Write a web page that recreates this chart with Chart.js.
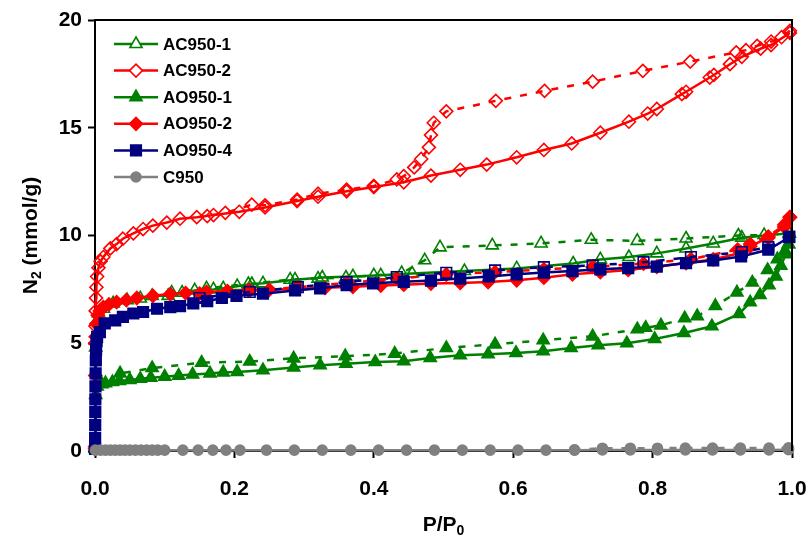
<!DOCTYPE html>
<html>
<head>
<meta charset="utf-8">
<script src="https://cdn.jsdelivr.net/npm/chart.js@4.4.1/dist/chart.umd.min.js"></script>
<style>
  html, body { margin: 0; padding: 0; background: #fff; }
  #wrap { width: 811px; height: 540px; position: relative; }
</style>
</head>
<body>
<div id="wrap"><canvas id="chart"></canvas></div>
<script>
// N2 isotherms, [P/P0, mmol/g]; "Ads" = adsorption branch, "Des" = desorption branch
const ac9501Ads = [[0.0002,0.2],[0.001,4.8],[0.002,6.0],[0.005,6.4],[0.012,6.6],[0.026,6.85],[0.046,7.0],[0.065,7.08],[0.082,7.2],[0.105,7.2],[0.125,7.35],[0.143,7.45],[0.17,7.5],[0.184,7.55],[0.204,7.65],[0.225,7.75],[0.241,7.78],[0.287,7.95],[0.326,8.05],[0.37,8.1],[0.41,8.15],[0.455,8.24],[0.53,8.35],[0.605,8.47],[0.686,8.7],[0.725,8.89],[0.766,9.0],[0.806,9.17],[0.848,9.4],[0.887,9.63],[0.928,9.9],[0.996,10.1]];
const ac9501Des = [[0.996,10.1],[0.96,10.02],[0.923,10.0],[0.848,9.86],[0.778,9.75],[0.712,9.8],[0.64,9.63],[0.57,9.54],[0.495,9.45],[0.473,8.85],[0.44,8.25],[0.4,8.15],[0.36,8.05],[0.32,8.0],[0.28,7.95],[0.22,7.75],[0.16,7.55],[0.11,7.35]];

const ac9502Ads = [[0.0001,0.2],[0.0003,5.0],[0.0006,5.8],[0.001,6.5],[0.0015,7.1],[0.002,7.6],[0.003,8.1],[0.005,8.5],[0.008,8.8],[0.012,9.0],[0.022,9.4],[0.031,9.6],[0.04,9.85],[0.055,10.1],[0.069,10.3],[0.083,10.46],[0.103,10.6],[0.122,10.78],[0.146,10.85],[0.17,10.95],[0.207,11.1],[0.244,11.3],[0.29,11.6],[0.32,11.8],[0.361,12.05],[0.4,12.25],[0.443,12.47],[0.482,12.78],[0.524,13.05],[0.562,13.29],[0.605,13.63],[0.644,13.97],[0.684,14.27],[0.725,14.77],[0.766,15.28],[0.793,15.66],[0.806,15.87],[0.842,16.56],[0.848,16.67],[0.882,17.33],[0.888,17.45],[0.911,17.95],[0.928,18.29],[0.955,18.67],[0.97,18.84],[0.997,19.4]];
const ac9502Des = [[0.997,19.5],[0.985,19.2],[0.97,19.0],[0.95,18.8],[0.934,18.6],[0.92,18.5],[0.854,18.07],[0.786,17.64],[0.714,17.14],[0.645,16.71],[0.575,16.25],[0.504,15.76],[0.486,15.23],[0.482,14.66],[0.479,14.09],[0.468,13.55],[0.458,13.16],[0.443,12.75],[0.433,12.6],[0.4,12.3],[0.361,12.13],[0.32,11.94],[0.29,11.67],[0.244,11.4],[0.225,11.43],[0.187,11.05],[0.161,10.9]];

const ao9501Ads = [[0.0002,0.1],[0.001,2.6],[0.003,3.0],[0.006,3.2],[0.01,3.1],[0.015,3.15],[0.025,3.2],[0.035,3.25],[0.05,3.3],[0.065,3.35],[0.08,3.4],[0.1,3.45],[0.12,3.5],[0.14,3.55],[0.165,3.6],[0.184,3.65],[0.204,3.67],[0.241,3.75],[0.285,3.88],[0.323,3.98],[0.36,4.05],[0.402,4.13],[0.443,4.17],[0.481,4.32],[0.524,4.44],[0.564,4.49],[0.604,4.55],[0.643,4.63],[0.683,4.78],[0.722,4.91],[0.763,5.0],[0.803,5.2],[0.845,5.48],[0.885,5.79],[0.924,6.36],[0.94,6.9],[0.954,7.24],[0.967,7.69],[0.977,8.1],[0.984,8.6],[0.991,9.13],[0.995,9.6]];
const ao9501Des = [[0.995,9.6],[0.99,9.3],[0.979,8.9],[0.965,8.4],[0.943,7.82],[0.921,7.36],[0.89,6.73],[0.864,6.26],[0.846,6.16],[0.812,5.83],[0.79,5.72],[0.778,5.65],[0.714,5.32],[0.643,5.14],[0.574,4.95],[0.504,4.78],[0.43,4.52],[0.359,4.4],[0.285,4.3],[0.222,4.15],[0.153,4.1],[0.082,3.85],[0.036,3.6]];

const ao9502Ads = [[0.0001,0.1],[0.0004,3.5],[0.001,5.3],[0.002,5.9],[0.004,6.3],[0.007,6.5],[0.012,6.68],[0.02,6.8],[0.031,6.91],[0.045,7.0],[0.06,7.1],[0.083,7.2],[0.108,7.28],[0.13,7.33],[0.16,7.38],[0.19,7.42],[0.22,7.45],[0.25,7.48],[0.29,7.52],[0.33,7.57],[0.37,7.62],[0.41,7.68],[0.443,7.72],[0.482,7.77],[0.524,7.8],[0.564,7.84],[0.605,7.92],[0.644,8.04],[0.685,8.2],[0.725,8.3],[0.765,8.4],[0.806,8.55],[0.848,8.72],[0.887,8.89],[0.927,9.2],[0.94,9.5],[0.966,9.9],[0.989,10.4],[0.997,10.85]];
const ao9502Des = [[0.997,10.85],[0.989,10.5],[0.966,9.95],[0.94,9.6],[0.922,9.35],[0.855,8.9],[0.787,8.7],[0.714,8.54],[0.644,8.43],[0.574,8.3],[0.504,8.19],[0.433,8.0],[0.361,7.8],[0.291,7.6],[0.222,7.45],[0.15,7.3]];

const ao9504Ads = [[0.0001,0.1],[0.0002,0.6],[0.0003,1.2],[0.0004,1.8],[0.0005,2.4],[0.0007,3.0],[0.0009,3.6],[0.0012,4.2],[0.0016,4.7],[0.0022,5.1],[0.003,5.3],[0.007,5.52],[0.014,5.92],[0.029,6.06],[0.04,6.22],[0.055,6.38],[0.069,6.45],[0.089,6.6],[0.108,6.68],[0.122,6.72],[0.141,6.85],[0.161,6.95],[0.182,7.1],[0.203,7.2],[0.241,7.3],[0.287,7.45],[0.323,7.55],[0.361,7.7],[0.399,7.78],[0.443,7.85],[0.482,7.91],[0.524,8.0],[0.565,8.1],[0.605,8.2],[0.644,8.28],[0.685,8.35],[0.725,8.43],[0.765,8.49],[0.806,8.56],[0.848,8.72],[0.887,8.84],[0.927,9.03],[0.966,9.34],[0.996,9.92]];
const ao9504Des = [[0.996,9.95],[0.966,9.46],[0.928,9.23],[0.855,9.0],[0.787,8.76],[0.714,8.61],[0.644,8.53],[0.574,8.38],[0.504,8.27],[0.433,8.07],[0.361,7.84],[0.291,7.6],[0.222,7.38],[0.15,7.1]];

const c950Ads = [[0.0005,0.04],[0.008,0.04],[0.015,0.04],[0.022,0.04],[0.029,0.04],[0.036,0.04],[0.043,0.04],[0.05,0.04],[0.058,0.04],[0.066,0.04],[0.074,0.04],[0.082,0.04],[0.09,0.04],[0.1,0.04],[0.126,0.04],[0.148,0.04],[0.169,0.04],[0.188,0.04],[0.208,0.04],[0.246,0.04],[0.286,0.04],[0.326,0.04],[0.367,0.04],[0.407,0.04],[0.447,0.04],[0.487,0.04],[0.527,0.04],[0.567,0.04],[0.607,0.04],[0.647,0.04],[0.688,0.04],[0.728,0.05],[0.768,0.05],[0.807,0.05],[0.847,0.05],[0.886,0.05],[0.926,0.05],[0.967,0.05],[0.995,0.06]];
const c950Des = [[0.995,0.15],[0.967,0.14],[0.926,0.14],[0.886,0.14],[0.847,0.14],[0.807,0.13],[0.768,0.13],[0.728,0.13],[0.688,0.05]];

const sampleNames = ['AC950-1', 'AC950-2', 'AO950-1', 'AO950-2', 'AO950-4', 'C950'];
const xTicks = [0, 0.2, 0.4, 0.6, 0.8, 1.0];
const yTicks = [0, 5, 10, 15, 20];

const FONT = "'Liberation Sans', Arial, sans-serif";
const GREEN = '#008000', RED = '#ff0000', NAVY = '#000080', GREY = '#808080';

// marker look per sample, same order as sampleNames
const looks = [
  { color: GREEN, style: 'triangle', r: 7, fill: 'rgba(0,0,0,0)' },
  { color: RED, style: 'rectRot', r: 6.5, fill: 'rgba(0,0,0,0)' },
  { color: GREEN, style: 'triangle', r: 7, fill: GREEN },
  { color: RED, style: 'rectRot', r: 6.5, fill: RED },
  { color: NAVY, style: 'rect', r: 7.5, fill: NAVY },
  { color: GREY, style: 'circle', r: 5, fill: GREY }
];
const branches = [
  [ac9501Ads, ac9501Des], [ac9502Ads, ac9502Des], [ao9501Ads, ao9501Des],
  [ao9502Ads, ao9502Des], [ao9504Ads, ao9504Des], [c950Ads, c950Des]
];

const datasets = [];
let order = 100;
branches.forEach((pair, i) => {
  const lk = looks[i];
  pair.forEach((pts, j) => {
    const desorb = j === 1;
    let fill = lk.fill;
    if (desorb && sampleNames[i] === 'AO950-4') fill = 'rgba(0,0,0,0)';
    datasets.push({
      label: sampleNames[i] + (desorb ? ' des' : ''),
      data: pts.map(p => ({ x: p[0], y: p[1] })),
      showLine: true,
      borderColor: lk.color,
      borderWidth: 2.5,
      borderDash: desorb ? [7, 9] : [],
      pointStyle: lk.style,
      pointRadius: lk.r,
      pointBorderColor: lk.color,
      pointBackgroundColor: fill,
      pointBorderWidth: 1.6,
      clip: false,
      order: order--
    });
  });
});

function drawSubText(ctx, main, sub, rest, cx, cy) {
  const big = 'bold 21px ' + FONT, small = 'bold 14px ' + FONT;
  ctx.font = big;
  const w1 = ctx.measureText(main).width, w3 = ctx.measureText(rest).width;
  ctx.font = small;
  const w2 = ctx.measureText(sub).width;
  let x = cx - (w1 + w2 + w3) / 2;
  ctx.textAlign = 'left';
  ctx.textBaseline = 'alphabetic';
  ctx.font = big;
  ctx.fillText(main, x, cy + 7);
  x += w1;
  ctx.font = small;
  ctx.fillText(sub, x, cy + 11);
  x += w2;
  ctx.font = big;
  ctx.fillText(rest, x, cy + 7);
}

const extras = {
  id: 'extras',
  afterDraw(chart) {
    const ctx = chart.ctx, a = chart.chartArea;
    ctx.save();
    // box frame (top and right)
    ctx.strokeStyle = '#000';
    ctx.lineWidth = 2;
    ctx.beginPath();
    ctx.moveTo(a.left, a.top);
    ctx.lineTo(a.right, a.top);
    ctx.lineTo(a.right, a.bottom);
    ctx.stroke();

    // axis titles
    ctx.fillStyle = '#000';
    drawSubText(ctx, 'P/P', '0', '', (a.left + a.right) / 2, 524);
    ctx.save();
    ctx.translate(30, (a.top + a.bottom) / 2);
    ctx.rotate(-Math.PI / 2);
    drawSubText(ctx, 'N', '2', ' (mmol/g)', 0, 0);
    ctx.restore();

    // legend inside plot
    sampleNames.forEach((name, i) => {
      const lk = looks[i];
      const y = 44 + i * 26.6;
      ctx.strokeStyle = lk.color;
      ctx.lineWidth = 2.5;
      ctx.setLineDash([]);
      ctx.beginPath();
      ctx.moveTo(114, y);
      ctx.lineTo(158, y);
      ctx.stroke();
      ctx.fillStyle = lk.fill === 'rgba(0,0,0,0)' ? '#fff' : lk.fill;
      ctx.lineWidth = 1.6;
      Chart.helpers.drawPoint(ctx, { pointStyle: lk.style, radius: lk.r, borderWidth: 1.6, rotation: 0 }, 136, y);
      ctx.fillStyle = '#000';
      ctx.font = 'bold 17px ' + FONT;
      ctx.textAlign = 'left';
      ctx.textBaseline = 'middle';
      ctx.fillText(name, 163, y + 1);
    });
    ctx.restore();
  }
};

new Chart(document.getElementById('chart'), {
  type: 'scatter',
  data: { datasets },
  options: {
    responsive: true,
    maintainAspectRatio: false,
    animation: false,
    layout: { padding: { top: 20, right: 0, left: 0, bottom: 0 } },
    plugins: { legend: { display: false }, tooltip: { enabled: false } },
    scales: {
      x: {
        type: 'linear', min: 0, max: 1,
        afterFit: s => { s.height = 89; s.paddingRight = 19; },
        afterBuildTicks: s => { s.ticks = xTicks.map(v => ({ value: v })); },
        ticks: {
          callback: v => v.toFixed(1), color: '#000', padding: 19, maxRotation: 0,
          font: { family: FONT, size: 21, weight: 'bold' }
        },
        grid: { drawOnChartArea: false, tickLength: 7, tickWidth: 2, tickColor: '#000' },
        border: { color: '#000', width: 2 }
      },
      y: {
        min: 0, max: 20,
        afterFit: s => { s.width = 95; },
        afterBuildTicks: s => { s.ticks = yTicks.map(v => ({ value: v })); },
        ticks: {
          color: '#000', padding: 6,
          font: { family: FONT, size: 21, weight: 'bold' }
        },
        grid: { drawOnChartArea: false, tickLength: 7, tickWidth: 2, tickColor: '#000' },
        border: { color: '#000', width: 2 }
      }
    }
  },
  plugins: [extras]
});
</script>
</body>
</html>
